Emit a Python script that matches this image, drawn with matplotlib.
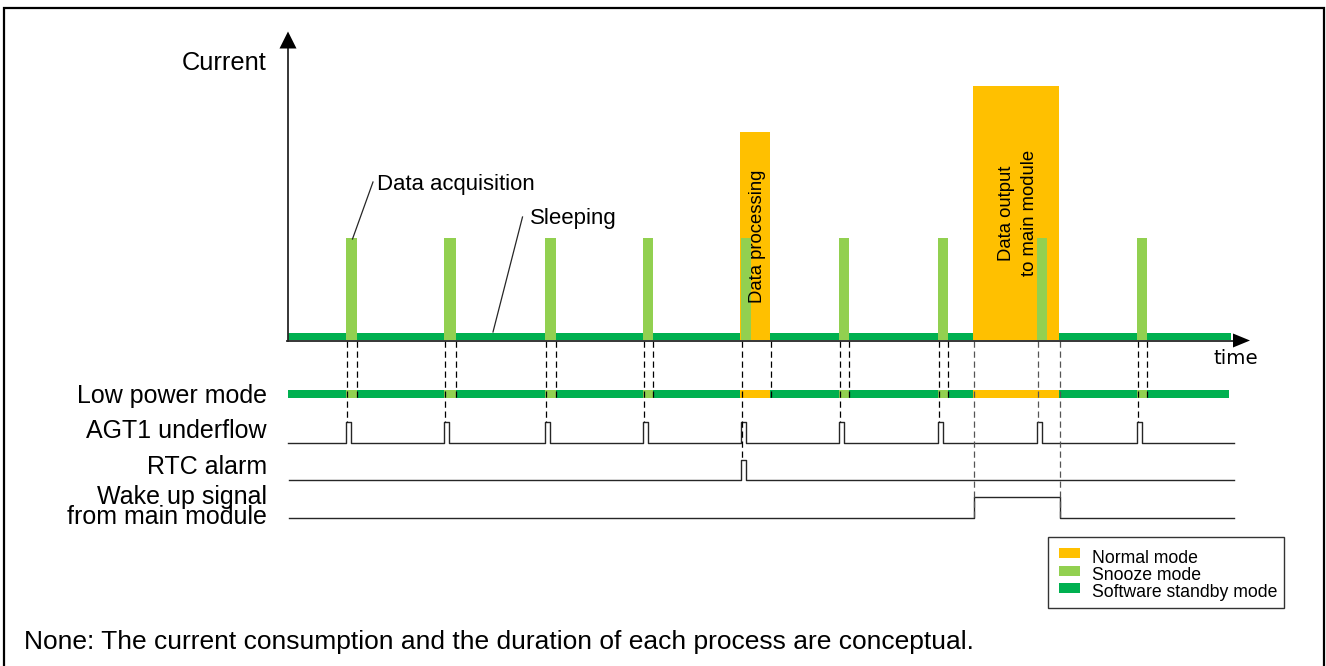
import matplotlib
matplotlib.use("Agg")
import matplotlib.pyplot as plt
from matplotlib.patches import Rectangle, Polygon

plt.rcParams['font.family'] = ['Liberation Sans', 'DejaVu Sans']

# ---------------- data (time axis in px-like units, current in px-like units) ----------------
T0, T_END = 288, 1231           # time axis start / end of traces
BASE = 340                      # zero-current level
acq_start = [346, 444, 545, 643, 741, 839, 938, 1037, 1137]      # snooze (data acquisition) pulses
acq_dur = [11, 12, 11, 10, 10, 10, 10, 10, 10]
acq_current = 102
normal_start = [740, 973]       # normal mode blocks
normal_end = [770, 1059]
normal_current = [208, 254]
normal_labels = ["Data processing", "Data output\nto main module"]
standby_current = 7
rtc_alarm = [741]
wake_on, wake_off = 974, 1060

signal_names = ["Low power mode", "AGT1 underflow", "RTC alarm", "Wake up signal\nfrom main module"]
legend_labels = ["Normal mode", "Snooze mode", "Software standby mode"]

C_NORMAL = "#FFC000"
C_SNOOZE = "#92D050"
C_STANDBY = "#00B050"
C_LINE = "#262626"

fig = plt.figure(figsize=(13.26, 6.66), dpi=100)
ax = fig.add_axes([0, 0, 1, 1])
ax.set_xlim(0, 1326)
ax.set_ylim(666, 0)
ax.axis("off")

# outer frame
ax.plot([4, 4, 1324, 1324], [700, 7.5, 7.5, 700], color="black", lw=1.6, solid_joinstyle="miter")

# ---------------- current plot ----------------
ax.add_patch(Rectangle((T0, BASE - standby_current), T_END - T0, standby_current, color=C_STANDBY, lw=0, zorder=2))
for s, e, c in zip(normal_start, normal_end, normal_current):
    ax.add_patch(Rectangle((s, BASE - c), e - s, c, color=C_NORMAL, lw=0, zorder=3))
for s, d in zip(acq_start, acq_dur):
    ax.add_patch(Rectangle((s, BASE - acq_current), d, acq_current, color=C_SNOOZE, lw=0, zorder=4))

# axes arrows
ax.plot([288, 288], [BASE + 1, 46], color=C_LINE, lw=1.3, zorder=6)
ax.add_patch(Polygon([[279.5, 48.5], [296.5, 48.5], [288, 31.5]], closed=True, color="black", lw=0, zorder=6))
ax.plot([287, 1234], [BASE + 0.5, BASE + 0.5], color=C_LINE, lw=1.3, zorder=6)
ax.add_patch(Polygon([[1233, 333.5], [1233, 347.5], [1250, 340.5]], closed=True, color="black", lw=0, zorder=6))

ax.text(267, 69.5, "Current", fontsize=18.3, ha="right", va="baseline")
ax.text(1214, 364, "time", fontsize=14.3, ha="left", va="baseline", family=["DejaVu Sans"])

# annotations
ax.plot([352.5, 373], [239, 182], color=C_LINE, lw=0.9, zorder=7)
ax.text(377, 190, "Data acquisition", fontsize=15.9, ha="left", va="baseline")
ax.plot([493, 522.5], [332, 217], color=C_LINE, lw=0.9, zorder=7)
ax.text(530, 224, "Sleeping", fontsize=16, ha="left", va="baseline")

ax.text(757.5, 236.5, normal_labels[0], fontsize=13.3, rotation=90, ha="center", va="center", zorder=8)
ax.text(1018, 213, normal_labels[1], fontsize=13.3, rotation=90, ha="center", va="center",
        multialignment="center", linespacing=1.4, zorder=8)

# ---------------- signals ----------------
LP_Y, LP_H = 393.5, 8
AGT_Y, AGT_H = 443, 21
RTC_Y, RTC_H = 479.5, 20
WAKE_Y, WAKE_H = 518, 21
PULSE_W = 4.5

ax.add_patch(Rectangle((T0, LP_Y - LP_H / 2), 1229 - T0, LP_H, color=C_STANDBY, lw=0, zorder=2))
for s, d in zip(acq_start, acq_dur):
    ax.add_patch(Rectangle((s, LP_Y - LP_H / 2), d, LP_H, color=C_SNOOZE, lw=0, zorder=3))
for s, e in zip(normal_start, normal_end):
    ax.add_patch(Rectangle((s, LP_Y - LP_H / 2), e - s, LP_H, color=C_NORMAL, lw=0, zorder=4))

def pulse_train(starts, y0, h, w, x0=T0, x1=1234):
    xs, ys = [x0], [y0]
    for s in starts:
        xs += [s, s, s + w, s + w]
        ys += [y0, y0 - h, y0 - h, y0]
    xs.append(x1)
    ys.append(y0)
    return xs, ys

xs, ys = pulse_train(acq_start, AGT_Y, AGT_H, PULSE_W)
ax.plot(xs, ys, color=C_LINE, lw=1.0, zorder=5)
xs, ys = pulse_train(rtc_alarm, RTC_Y, RTC_H, PULSE_W, x0=289)
ax.plot(xs, ys, color=C_LINE, lw=1.0, zorder=5)
ax.plot([289, wake_on, wake_on, wake_off, wake_off, 1234],
        [WAKE_Y, WAKE_Y, WAKE_Y - WAKE_H, WAKE_Y - WAKE_H, WAKE_Y, WAKE_Y], color=C_LINE, lw=1.0, zorder=5)

lab_base = [403.3, 438.5, 473.5]
for name, yb in zip(signal_names[:3], lab_base):
    ax.text(267, yb, name, fontsize=18, ha="right", va="baseline")
ax.text(267, 524, signal_names[3], fontsize=18, ha="right", va="baseline",
        multialignment="right", linespacing=0.8)

# ---------------- dashed guide lines ----------------
dash = dict(lw=0.9, linestyle=(0, (5, 3)), zorder=5.5)
for s, d in zip(acq_start, acq_dur):
    if s == 741:
        continue
    if s == 1037:
        ax.plot([s + 1, s + 1], [BASE + 1, AGT_Y - AGT_H], color="#555555", **dash)
        continue
    ax.plot([s + 1, s + 1], [BASE + 1, AGT_Y - AGT_H], color="black", **dash)
    ax.plot([s + d, s + d], [BASE + 1, 400], color="black", **dash)
ax.plot([741.5, 741.5], [BASE + 1, RTC_Y - RTC_H], color="black", **dash)
ax.plot([770.5, 770.5], [BASE + 1, 399], color="black", **dash)
ax.plot([974, 974], [BASE + 1, WAKE_Y], color="#555555", **dash)
ax.plot([1060, 1060], [BASE + 1, WAKE_Y], color="#555555", **dash)

# ---------------- legend ----------------
ax.add_patch(Rectangle((1048, 537), 236, 71, fill=False, edgecolor="#333333", lw=1.0, zorder=5))
leg_colors = [C_NORMAL, C_SNOOZE, C_STANDBY]
leg_y = [548, 566, 583]
leg_base = [563.3, 580, 596.7]
for lab, c, y, yb in zip(legend_labels, leg_colors, leg_y, leg_base):
    ax.add_patch(Rectangle((1059, y), 21, 10, color=c, lw=0, zorder=6))
    ax.text(1092, yb, lab, fontsize=12.7, ha="left", va="baseline")

ax.text(24, 648.5, "None: The current consumption and the duration of each process are conceptual.",
        fontsize=19, ha="left", va="baseline")

fig.savefig("out.png", dpi=100)
